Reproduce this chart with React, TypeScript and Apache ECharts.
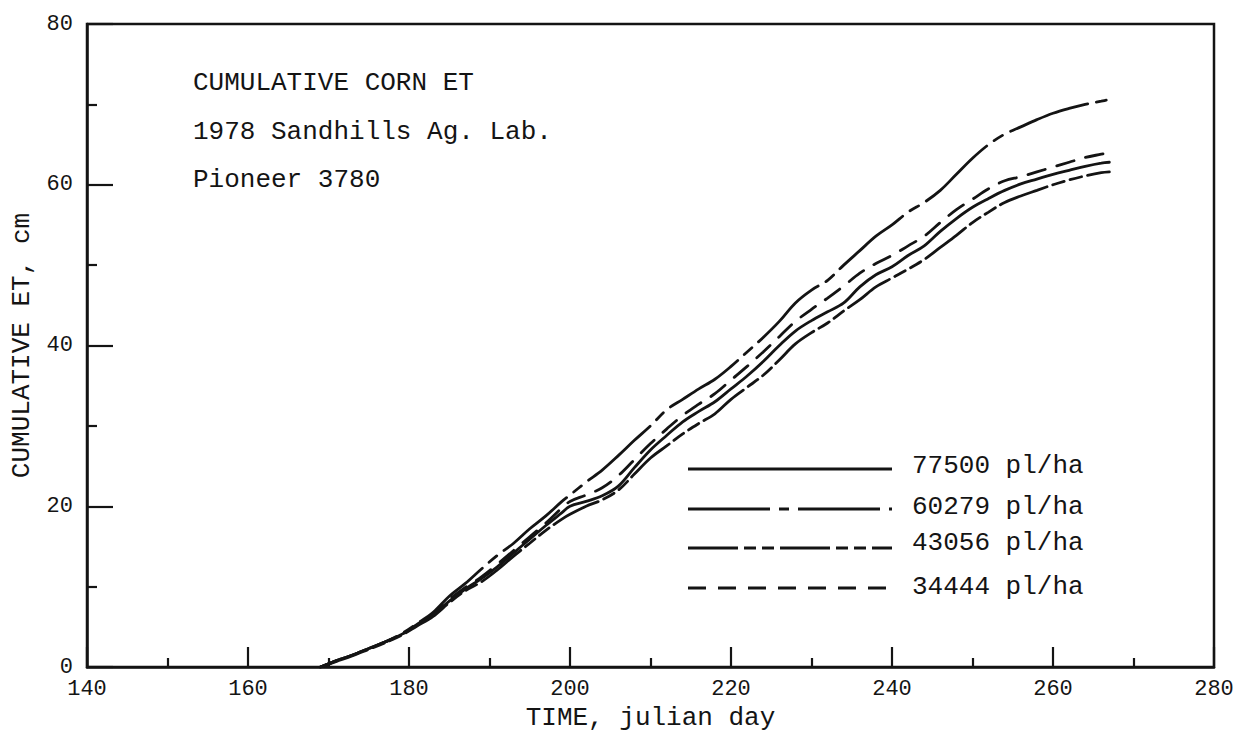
import React, { useEffect, useRef } from "react";
import * as echarts from "echarts";

const days = [
  169, 171, 173, 175, 177, 179, 181, 183, 185, 187, 189, 191, 193, 195, 197, 199,
  200, 202, 204, 206, 208, 210, 212, 214, 216, 218, 220, 222, 224, 226, 228, 230,
  232, 234, 236, 238, 240, 242, 244, 246, 248, 250, 252, 254, 256, 258, 260, 262,
  264, 266, 267,
];

// 60279 pl/ha (top curve)
const et60279 = [
  0, 0.8, 1.5, 2.3, 3.1, 4.1, 5.4, 6.8, 8.8, 10.4, 12.2, 13.9, 15.4, 17.2, 18.8, 20.6,
  21.4, 23.0, 24.5, 26.3, 28.2, 30.0, 32.0, 33.3, 34.6, 35.8, 37.4, 39.2, 41.0, 43.0, 45.3, 46.9,
  48.1, 50.0, 51.8, 53.6, 55.0, 56.6, 57.8, 59.3, 61.3, 63.3, 65.0, 66.3, 67.2, 68.1, 68.9, 69.5,
  70.0, 70.4, 70.6,
];
// 34444 pl/ha
const et34444 = [
  0, 0.8, 1.5, 2.3, 3.1, 4.0, 5.3, 6.6, 8.4, 9.9, 11.2, 12.8, 14.5, 16.2, 17.9, 19.8,
  20.6, 21.4, 22.3, 23.8, 25.8, 27.8, 29.6, 31.3, 32.7, 34.0, 35.7, 37.4, 39.2, 41.1, 43.0, 44.5,
  45.9, 47.4, 49.0, 50.2, 51.2, 52.4, 53.6, 55.3, 56.9, 58.2, 59.5, 60.5, 61.0, 61.6, 62.2, 62.8,
  63.4, 63.8, 64.0,
];
// 77500 pl/ha
const et77500 = [
  0, 0.8, 1.5, 2.3, 3.1, 4.0, 5.2, 6.5, 8.2, 9.7, 11.0, 12.5, 14.2, 15.9, 17.6, 19.2,
  20.0, 20.6, 21.3, 22.5, 24.8, 27.0, 28.8, 30.5, 31.8, 33.0, 34.6, 36.2, 38.0, 40.0, 41.8, 43.1,
  44.2, 45.3, 47.3, 48.8, 49.8, 51.2, 52.4, 54.2, 55.8, 57.2, 58.3, 59.3, 60.1, 60.7, 61.3, 61.8,
  62.3, 62.7, 62.8,
];
// 43056 pl/ha
const et43056 = [
  0, 0.7, 1.4, 2.2, 3.0, 3.9, 5.1, 6.3, 8.0, 9.5, 10.6, 12.1, 13.8, 15.4, 17.0, 18.4,
  19.0, 20.0, 20.8, 22.0, 24.0, 26.0, 27.5, 29.0, 30.3, 31.5, 33.3, 34.8, 36.3, 38.2, 40.2, 41.6,
  42.8, 44.3, 45.7, 47.3, 48.4, 49.5, 50.7, 52.2, 53.7, 55.3, 56.6, 57.8, 58.6, 59.3, 60.0, 60.6,
  61.1, 61.5, 61.6,
];

const titleLines = ["CUMULATIVE CORN ET", "1978 Sandhills Ag. Lab.", "Pioneer 3780"];
const legendLabels = ["77500 pl/ha", "60279 pl/ha", "43056 pl/ha", "34444 pl/ha"];

const FONT = '"Liberation Mono", "DejaVu Sans Mono", monospace';
const INK = "#141414";

const dashSolid: any = "solid";
const dash60279 = [82, 9, 10, 9];
const dash43056 = [50, 6, 12, 6, 12, 6];
const dash34444 = [18, 12];

export default function App() {
  const ref = useRef<HTMLDivElement>(null);

  useEffect(() => {
    if (!ref.current) return;
    const chart = echarts.init(ref.current, null, { renderer: "svg" });

    const toPairs = (vals: number[]) => days.map((d, i) => [d, vals[i]]);

    const mkSeries = (name: string, vals: number[], dash: any) => ({
      name,
      type: "line",
      data: toPairs(vals),
      showSymbol: false,
      symbol: "none",
      smooth: 0.35,
      lineStyle: { color: INK, width: 2.8, type: dash, cap: "round" },
      z: 3,
    });

    const legendY = [469, 509, 548, 588];
    const legendTextY = [466, 507, 543, 587];
    const legendDashes = [undefined, dash60279, dash43056, dash34444];

    const graphic: any[] = [];
    titleLines.forEach((t, i) => {
      graphic.push({
        type: "text",
        x: 193,
        y: 83 + i * 48.5,
        style: {
          text: t,
          font: `26px ${FONT}`,
          fill: INK,
          verticalAlign: "middle",
          align: "left",
        },
      });
    });
    legendLabels.forEach((t, i) => {
      const st: any = { stroke: INK, lineWidth: 2.8 };
      if (legendDashes[i]) st.lineDash = legendDashes[i];
      graphic.push({
        type: "line",
        shape: { x1: 688, y1: legendY[i], x2: 892, y2: legendY[i] },
        style: st,
      });
      graphic.push({
        type: "text",
        x: 912,
        y: legendTextY[i],
        style: {
          text: t,
          font: `26px ${FONT}`,
          fill: INK,
          verticalAlign: "middle",
          align: "left",
        },
      });
    });

    chart.setOption({
      animation: false,
      backgroundColor: "#ffffff",
      grid: {
        left: 87,
        right: 26,
        top: 24,
        bottom: 64,
        show: true,
        borderColor: INK,
        borderWidth: 2.5,
        backgroundColor: "transparent",
      },
      xAxis: {
        type: "value",
        min: 140,
        max: 280,
        interval: 20,
        name: "TIME, julian day",
        nameLocation: "middle",
        nameGap: 38,
        nameTextStyle: { fontFamily: FONT, fontSize: 26, color: INK },
        axisLine: { show: true, onZero: false, lineStyle: { color: INK, width: 2.5 } },
        axisTick: { show: true, inside: true, length: 20, lineStyle: { color: INK, width: 2.2 } },
        minorTick: { show: true, splitNumber: 2, length: 9, lineStyle: { color: INK, width: 2.2 } },
        axisLabel: { fontFamily: FONT, fontSize: 22, color: INK, margin: 11 },
        splitLine: { show: false },
        minorSplitLine: { show: false },
      },
      yAxis: {
        type: "value",
        min: 0,
        max: 80,
        interval: 20,
        name: "CUMULATIVE ET, cm",
        nameLocation: "middle",
        nameGap: 52,
        nameTextStyle: { fontFamily: FONT, fontSize: 26, color: INK },
        axisLine: { show: true, onZero: false, lineStyle: { color: INK, width: 2.5 } },
        axisTick: { show: true, inside: true, length: 26, lineStyle: { color: INK, width: 2.2 } },
        minorTick: { show: true, splitNumber: 2, length: 10, lineStyle: { color: INK, width: 2.2 } },
        axisLabel: {
          fontFamily: FONT,
          fontSize: 22,
          color: INK,
          margin: 14,
          formatter: (v: number) => String(v),
        },
        splitLine: { show: false },
        minorSplitLine: { show: false },
      },
      series: [
        mkSeries("60279 pl/ha", et60279, dash60279),
        mkSeries("34444 pl/ha", et34444, dash34444),
        mkSeries("77500 pl/ha", et77500, dashSolid),
        mkSeries("43056 pl/ha", et43056, dash43056),
      ],
      graphic,
    });

    return () => {
      chart.dispose();
    };
  }, []);

  return (
    <div
      ref={ref}
      style={{
        position: "fixed",
        left: 0,
        top: 0,
        width: 1240,
        height: 736,
        background: "#ffffff",
      }}
    />
  );
}
